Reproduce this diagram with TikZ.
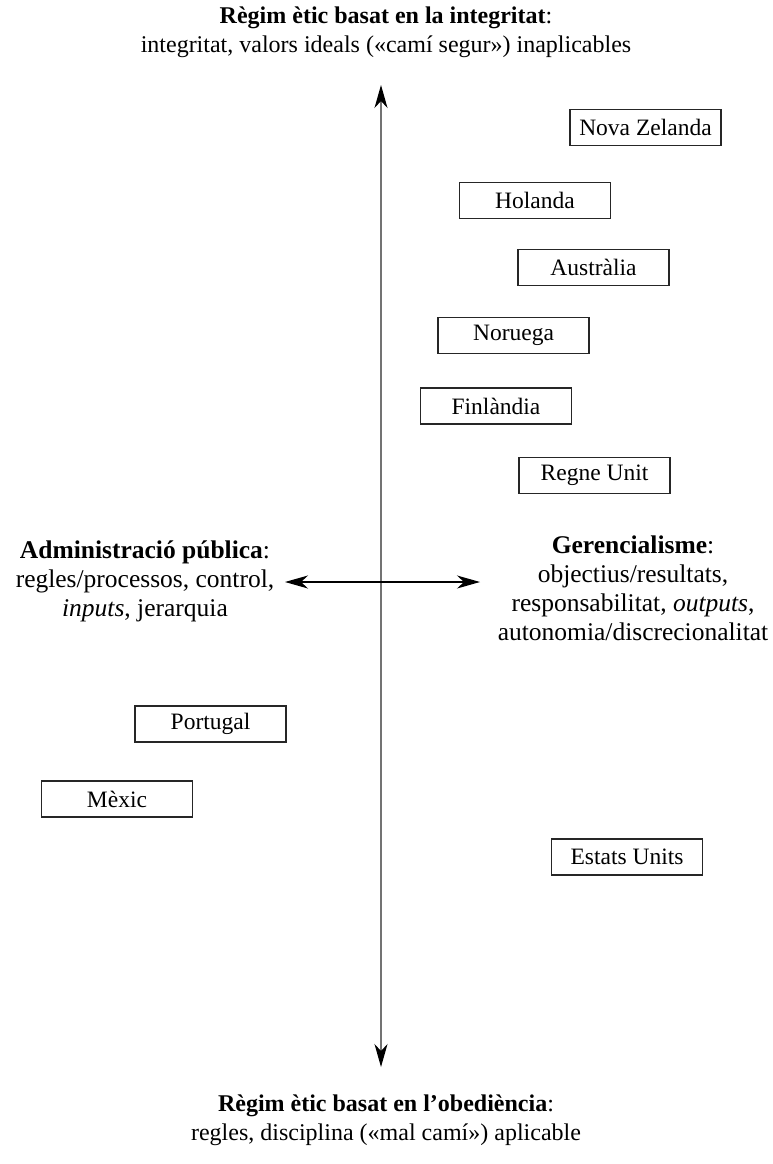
\documentclass[tikz,border=0pt]{standalone}
\usepackage{fontspec}
\setmainfont{Liberation Serif}
\usetikzlibrary{arrows.meta}
\tikzset{
  country/.style={draw=black!85, line width=1.1pt, minimum width=151pt, minimum height=36pt, inner sep=0pt, font=\fontsize{23.5}{28}\selectfont},
  axislabel/.style={align=center, inner sep=0pt, font=\fontsize{24}{29}\selectfont},
  sidelabel/.style={align=center, inner sep=0pt, font=\fontsize{25.5}{29}\selectfont},
  axisarrow/.style={{Stealth[length=23pt,width=13pt,inset=7pt,color=black]}-{Stealth[length=23pt,width=13pt,inset=7pt,color=black]}},
}
\begin{document}
\begin{tikzpicture}[x=1pt,y=-1pt]
\useasboundingbox (0,0) rectangle (773,1164);
% axes
\coordinate (vtop) at (381,85);
\coordinate (vbot) at (381,1067);
\coordinate (hl) at (285,582);
\coordinate (hr) at (480,582);
\draw[axisarrow, draw=black!55, line width=1.2pt] (vtop) -- (vbot);
\draw[axisarrow, line width=1.2pt] (hl) -- (hr);
% labels
\node[axislabel] (top) at (386,32) {\textbf{Règim ètic basat en la integritat}:\\integritat, valors ideals («camí segur») inaplicables};
\node[axislabel] (bottom) at (386,1120) {\textbf{Règim ètic basat en l’obediència}:\\regles, disciplina («mal camí») aplicable};
\node[sidelabel] (left) at (145,581) {\textbf{Administració pública}:\\regles/processos, control,\\\textit{inputs}, jerarquia};
\node[sidelabel] (right) at (633,588) {\textbf{Gerencialisme}:\\objectius/resultats,\\responsabilitat, \textit{outputs},\\autonomia/discrecionalitat};
% countries
\node[country] (nz) at (645.5,127.5) {Nova Zelanda};
\node[country] (hol) at (535,200.5) {Holanda};
\node[country] (aus) at (593.5,267.5) {Austràlia};
\node[country] (nor) at (513.5,335.5) {Noruega};
\node[country] (fin) at (496,406) {Finlàndia};
\node[country] (uk) at (594.5,475.5) {Regne Unit};
\node[country] (por) at (210.5,724) {Portugal};
\node[country] (mex) at (117,799) {Mèxic};
\node[country] (usa) at (627,857) {Estats Units};
\end{tikzpicture}
\end{document}
